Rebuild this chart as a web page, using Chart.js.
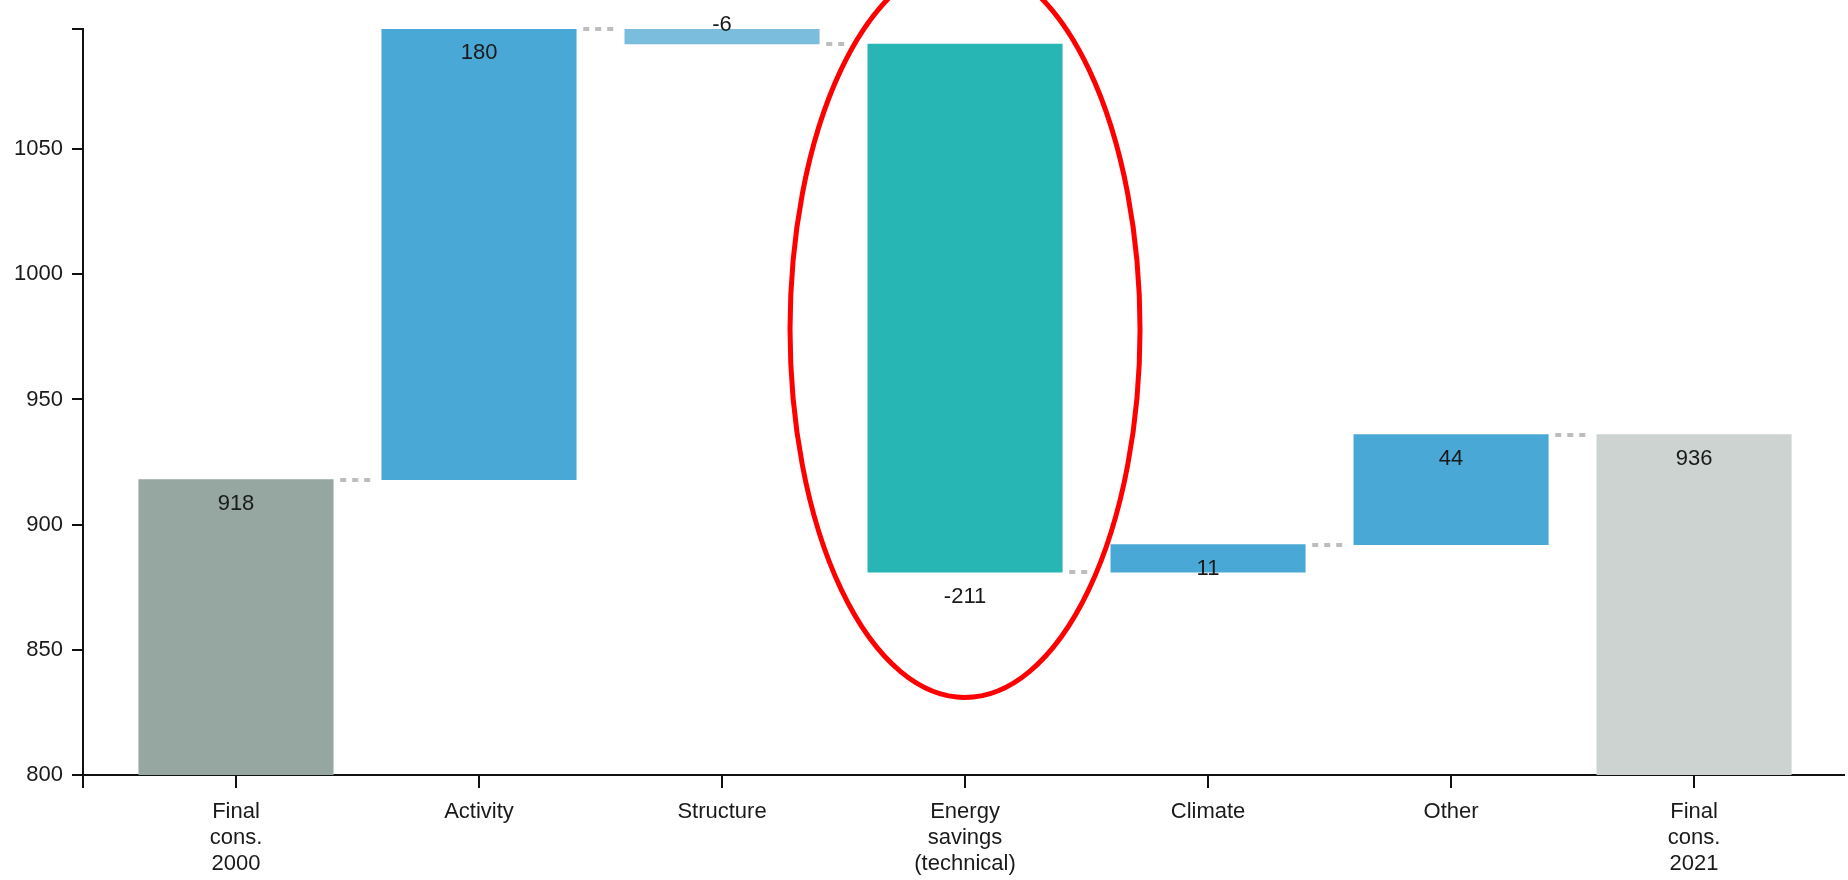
<!DOCTYPE html>
<html>
<head>
<meta charset="utf-8">
<script src="https://cdn.jsdelivr.net/npm/chart.js@4.4.1/dist/chart.umd.min.js"></script>
<style>
  html, body { margin: 0; padding: 0; background: #fff; }
  #wrap { width: 1848px; height: 880px; position: relative; }
</style>
</head>
<body>
<div id="wrap"><canvas id="chart"></canvas></div>
<script>
// Waterfall data
const categories = [['Final', 'cons.', '2000'], 'Activity', 'Structure', ['Energy', 'savings', '(technical)'], 'Climate', 'Other', ['Final', 'cons.', '2021']];
const changes = [918, 180, -6, -211, 11, 44, 936];
const isTotal = [true, false, false, false, false, false, true];
const barColors = ['#96a6a0', '#4aa8d6', '#7bbddd', '#27b6b3', '#4aa8d6', '#4aa8d6', '#ccd3d1'];
const yTicks = [800, 850, 900, 950, 1000, 1050];
const yMin = 800;
const yMax = 1098;

// floating ranges from running total
const ranges = [];
const levels = [];
let running = 0;
changes.forEach((v, i) => {
    if (isTotal[i]) {
        ranges.push([0, v]);
        running = v;
    } else {
        ranges.push([running, running + v]);
        running += v;
    }
    levels.push(running);
});

const FONT = '"Liberation Sans", Arial, sans-serif';
const xMin = -0.6296;
const xMax = 6.617;

// connectors + value labels + highlight ellipse
const waterfallExtras = {
    id: 'waterfallExtras',
    afterDatasetsDraw(chart) {
        const ctx = chart.ctx;
        const xs = chart.scales.x;
        const ys = chart.scales.y;
        const bars = chart.getDatasetMeta(0).data;

        // dotted connectors
        ctx.save();
        ctx.strokeStyle = '#bdbdbd';
        ctx.lineWidth = 4;
        ctx.setLineDash([6, 6]);
        for (let i = 0; i < bars.length - 1; i++) {
            const right = bars[i].x + bars[i].width / 2;
            const y = Math.round(ys.getPixelForValue(levels[i]));
            const len = changes[i] < 0 ? 18 : 30;
            ctx.beginPath();
            ctx.moveTo(right + 7, y);
            ctx.lineTo(right + 7 + len, y);
            ctx.stroke();
        }
        ctx.restore();

        // value labels
        ctx.save();
        ctx.font = '22px ' + FONT;
        ctx.fillStyle = '#1a1a1a';
        ctx.textAlign = 'center';
        ctx.textBaseline = 'middle';
        bars.forEach((bar, i) => {
            const v = changes[i];
            const hi = Math.max(ranges[i][0], ranges[i][1]);
            const lo = Math.min(ranges[i][0], ranges[i][1]);
            let y;
            if (v >= 0) y = ys.getPixelForValue(hi) + 24;
            else if (Math.abs(v) < 10) y = ys.getPixelForValue(hi) - 4;
            else y = ys.getPixelForValue(lo) + 25;
            ctx.fillText(String(v), bar.x, y);
        });
        ctx.restore();

        // red highlight around energy savings
        ctx.save();
        ctx.strokeStyle = '#ff0000';
        ctx.lineWidth = 5;
        ctx.beginPath();
        ctx.ellipse(xs.getPixelForValue(3), ys.getPixelForValue(978), 175, 368, 0, 0, Math.PI * 2);
        ctx.stroke();
        ctx.restore();
    }
};

new Chart(document.getElementById('chart'), {
    type: 'bar',
    data: {
        datasets: [{
            data: ranges.map((r, i) => ({ x: i, y: r })),
            backgroundColor: barColors,
            borderWidth: 0,
            barThickness: 'flex',
            barPercentage: 0.8,
            categoryPercentage: 1
        }]
    },
    options: {
        responsive: true,
        maintainAspectRatio: false,
        animation: false,
        layout: { padding: { top: 29, right: 4, left: 0, bottom: 0 } },
        plugins: {
            legend: { display: false },
            tooltip: { enabled: false }
        },
        scales: {
            x: {
                type: 'linear',
                min: xMin,
                max: xMax,
                offset: false,
                afterBuildTicks: (scale) => {
                    scale.ticks = [xMin, 0, 1, 2, 3, 4, 5, 6].map(v => ({ value: v }));
                },
                afterFit: (scale) => { scale.height = 105; },
                border: { display: true, color: '#111', width: 2 },
                grid: { display: true, offset: false, drawOnChartArea: false, drawTicks: true, tickLength: 13, color: '#111', lineWidth: 2 },
                ticks: {
                    autoSkip: false,
                    maxRotation: 0,
                    padding: 11,
                    color: '#1a1a1a',
                    font: { family: FONT, size: 22, lineHeight: 1.18 },
                    callback: (v) => Number.isInteger(v) && v >= 0 && v < categories.length ? categories[v] : ''
                }
            },
            y: {
                min: yMin,
                max: yMax,
                afterBuildTicks: (scale) => {
                    scale.ticks = yTicks.concat([yMax]).map(v => ({ value: v }));
                },
                afterFit: (scale) => { scale.width = 83; },
                border: { display: true, color: '#111', width: 2 },
                grid: { display: true, drawOnChartArea: false, drawTicks: true, tickLength: 11, color: '#111', lineWidth: 2 },
                ticks: {
                    padding: 9,
                    color: '#1a1a1a',
                    font: { family: FONT, size: 22 },
                    callback: (v) => yTicks.includes(v) ? String(v) : ''
                }
            }
        }
    },
    plugins: [waterfallExtras]
});
</script>
</body>
</html>
